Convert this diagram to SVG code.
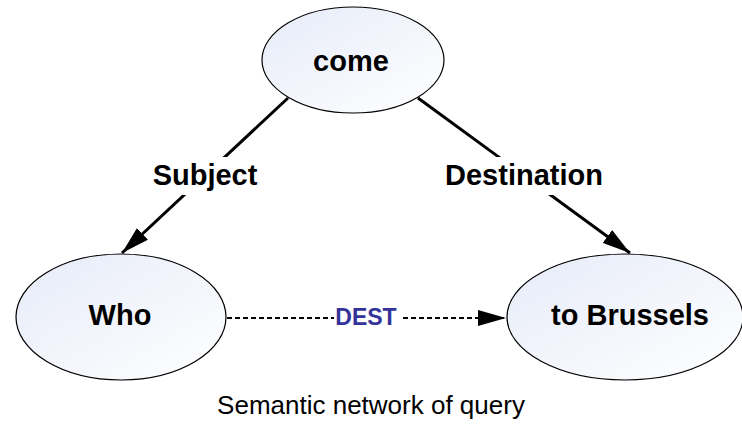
<svg xmlns="http://www.w3.org/2000/svg" width="742" height="424" viewBox="0 0 742 424">
  <style>
    .node { stroke: #000; stroke-width: 1.2; fill: url(#nodeFill); }
    .label { font-family: "Liberation Sans", Arial, sans-serif; font-weight: bold; font-size: 29px; fill: #000; text-anchor: middle; }
    .edge { stroke: #000; stroke-width: 3; fill: none; }
    .dotted { stroke: #000; stroke-width: 2; stroke-dasharray: 5 3; fill: none; }
    .edgeLabel { font-family: "Liberation Sans", Arial, sans-serif; font-weight: bold; font-size: 29px; fill: #000; text-anchor: middle; }
    .relLabel { font-family: "Liberation Sans", Arial, sans-serif; font-weight: bold; font-size: 23px; fill: #333399; text-anchor: middle; }
    .caption { font-family: "Liberation Sans", Arial, sans-serif; font-size: 26px; fill: #000; text-anchor: middle; }
    .bg { fill: #fff; }
  </style>
  <defs>
    <linearGradient id="nodeFill" x1="0" y1="0" x2="1" y2="1">
      <stop offset="0" stop-color="#e6ebf8"/>
      <stop offset="1" stop-color="#ffffff"/>
    </linearGradient>
    <marker id="arrow" viewBox="0 0 28 16" refX="28" refY="8" markerUnits="userSpaceOnUse" markerWidth="28" markerHeight="16" orient="auto">
      <path d="M0,0 L28,8 L0,16 Z" fill="#000"/>
    </marker>
  </defs>

  <rect width="742" height="424" fill="#fff"/>

  <!-- connectors -->
  <g id="connectors">
    <line class="edge" x1="288" y1="98" x2="122" y2="253" marker-end="url(#arrow)"/>
    <rect class="bg" x="150" y="157" width="110" height="38"/>
    <text class="edgeLabel" x="205" y="185">Subject</text>

    <line class="edge" x1="418" y1="98" x2="630" y2="253" marker-end="url(#arrow)"/>
    <rect class="bg" x="442" y="157" width="164" height="38"/>
    <text class="edgeLabel" x="524" y="185">Destination</text>

    <line class="dotted" x1="227" y1="318" x2="506" y2="318" marker-end="url(#arrow)"/>
    <rect class="bg" x="334" y="304" width="66" height="26"/>
    <text class="relLabel" x="366" y="325">DEST</text>
  </g>

  <g id="node-come">
    <ellipse class="node" cx="353" cy="60" rx="91" ry="53"/>
    <text class="label" x="351" y="71">come</text>
  </g>

  <g id="node-who">
    <ellipse class="node" cx="121" cy="317" rx="105" ry="63"/>
    <text class="label" x="120" y="325">Who</text>
  </g>

  <g id="node-brussels">
    <ellipse class="node" cx="625" cy="317" rx="118" ry="63"/>
    <text class="label" x="630" y="325">to Brussels</text>
  </g>

  <text class="caption" x="371" y="414">Semantic network of query</text>
</svg>
